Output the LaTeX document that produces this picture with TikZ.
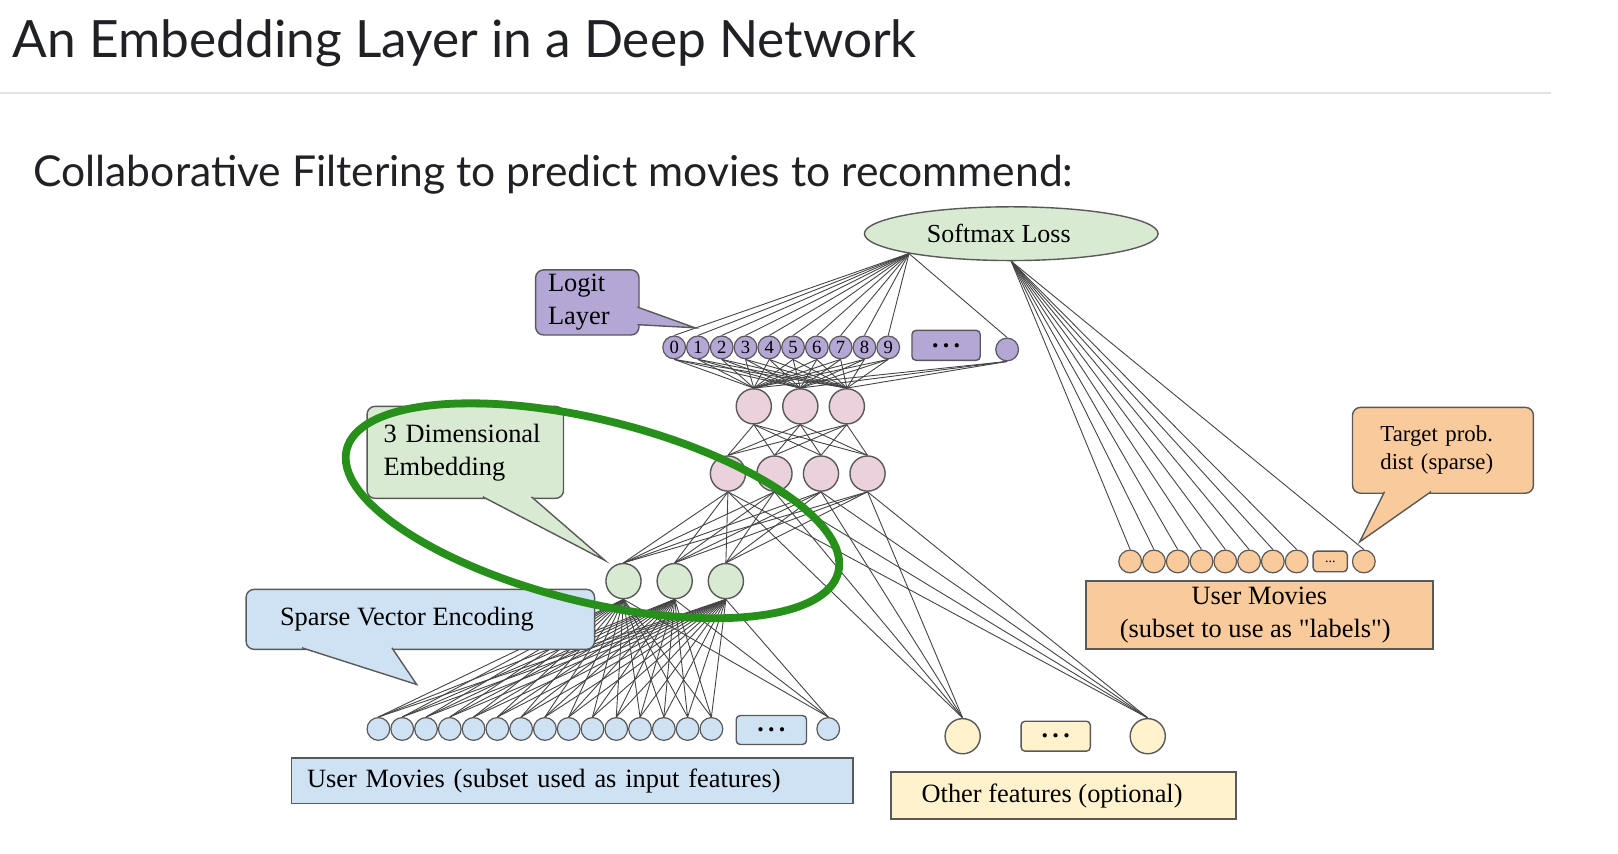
\documentclass[tikz,border=0pt]{standalone}
\usepackage{fontspec}
\setmainfont{Liberation Serif}
\newfontfamily\slidefont{Lato}
\usetikzlibrary{positioning,shapes.geometric,backgrounds}

\definecolor{edgegray}{HTML}{444444}
\definecolor{rimgray}{HTML}{595959}
\definecolor{lossgreen}{HTML}{D9EAD3}
\definecolor{logitpurple}{HTML}{B4A7D6}
\definecolor{hiddenpink}{HTML}{EAD1DC}
\definecolor{inputblue}{HTML}{CFE2F3}
\definecolor{otheryellow}{HTML}{FFF2CC}
\definecolor{labelorange}{HTML}{F9CB9C}
\definecolor{ringgreen}{HTML}{27901A}
\definecolor{titlegray}{HTML}{202124}
\definecolor{rulegray}{HTML}{E3E3E3}

\newlength\pxu
\setlength\pxu{0.517pt}

\tikzset{
  neuron/.style={circle, draw=rimgray, line width=0.7pt, inner sep=0pt, minimum size=34\pxu},
  tiny/.style={circle, draw=rimgray, line width=0.6pt, inner sep=0pt, minimum size=22\pxu,
    font=\fontsize{9.3}{9.3}\selectfont},
  dotbox/.style={rectangle, rounded corners=2pt, draw=rimgray, line width=0.7pt, inner sep=0pt,
    font=\fontsize{13}{13}\selectfont\bfseries},
  wire/.style={draw=edgegray, line width=0.45pt},
  labelbox/.style={rectangle, draw=rimgray, line width=0.9pt, inner sep=0pt,
    font=\fontsize{13.2}{16.5}\selectfont},
  talkbox/.style={rectangle, rounded corners=4pt, draw=rimgray, line width=0.7pt, inner sep=0pt,
    font=\fontsize{13.2}{16.5}\selectfont},
  talktail/.style={draw=rimgray, line width=0.7pt},
}

\begin{document}
\begin{tikzpicture}[x=\pxu, y=-\pxu]
  \useasboundingbox (0,0) rectangle (1564.8,825.9);

  % headings
  \node[anchor=base west, inner sep=0pt, text=titlegray, font=\slidefont\fontsize{25.7}{30}\selectfont]
    (title) at (12,56) {An Embedding Layer in a Deep Network};
  \draw[rulegray, line width=1pt] (0,90) -- (1500,90);
  \node[anchor=base west, inner sep=0pt, text=titlegray, font=\slidefont\fontsize{21.3}{24}\selectfont]
    (subtitle) at (32,180) {Collaborative Filtering to predict movies to recommend:};

  % loss and logit layer
  \node[ellipse, draw=rimgray, line width=0.7pt, fill=lossgreen, minimum width=284\pxu, minimum height=52\pxu,
    inner sep=0pt, font=\fontsize{13}{14}\selectfont] (loss) at (978,226) {Softmax Loss\hspace*{24\pxu}};
  \foreach \i in {0,...,9}
    \node[tiny, fill=logitpurple] (logit\i) at ({652+23*\i},336) {\i};
  \node[dotbox, fill=logitpurple, minimum width=66\pxu, minimum height=29\pxu] (logitdots) at (915,334) {.\,.\,.};
  \node[tiny, fill=logitpurple] (logitN) at (974,338) {};

  % hidden layers
  \foreach \j in {1,2,3}
    \node[neuron, fill=hiddenpink] (hidA\j) at ({729+45*(\j-1)},393) {};
  \foreach \j in {1,...,4}
    \node[neuron, fill=hiddenpink] (hidB\j) at ({704+45*(\j-1)},458) {};

  % embedding
  \foreach \k in {1,2,3}
    \node[neuron, fill=lossgreen] (emb\k) at ({603+49.5*(\k-1)},562) {};

  % sparse input
  \foreach \i in {0,...,14}
    \node[tiny, fill=inputblue] (inp\i) at ({366+23*\i},705) {};
  \node[dotbox, fill=inputblue, minimum width=68\pxu, minimum height=28\pxu] (inpdots) at (746,706) {.\,.\,.};
  \node[tiny, fill=inputblue] (inpN) at (801,705) {};
  \node[labelbox, fill=inputblue, text width=513\pxu, inner xsep=15\pxu, minimum height=44\pxu, align=left]
    (inplabel) at (553.5,755) {User Movies (subset used as input features)};

  % other features
  \node[neuron, fill=otheryellow] (oth1) at (931,712) {};
  \node[dotbox, fill=otheryellow, minimum width=67\pxu, minimum height=29\pxu] (othdots) at (1021,712) {.\,.\,.};
  \node[neuron, fill=otheryellow] (oth2) at (1110,712) {};
  \node[labelbox, fill=otheryellow, minimum width=333\pxu, minimum height=45\pxu]
    (othlabel) at (1028.5,769.5) {Other features (optional)\hspace*{22\pxu}};

  % label movies
  \foreach \i in {0,...,7}
    \node[tiny, fill=labelorange] (lab\i) at ({1093+23*\i},543) {};
  \node[dotbox, fill=labelorange, minimum width=33\pxu, minimum height=20\pxu, font=\fontsize{7}{7}\selectfont]
    (labdots) at (1286.5,543) {...};
  \node[tiny, fill=labelorange] (labN) at (1319,543) {};
  \node[labelbox, fill=labelorange, minimum width=336\pxu, minimum height=66\pxu, align=center]
    (lablabel) at (1218,595) {User Movies\\(subset to use as \textquotedbl labels\textquotedbl)\hspace*{8\pxu}};

  % connections
  \begin{pgfonlayer}{background}
    \foreach \i in {0,...,9,N} {
      \draw[wire] (loss.191) -- (logit\i.north);
      \foreach \j in {1,2,3}
        \draw[wire] (logit\i.south) -- (hidA\j.north);
    }
    \foreach \i in {0,...,7,N}
      \draw[wire] (loss.south) -- (lab\i.north);
    \foreach \j in {1,2,3}
      \foreach \m in {1,...,4}
        \draw[wire] (hidA\j.south) -- (hidB\m.north);
    \foreach \m in {1,...,4} {
      \foreach \k in {1,2,3}
        \draw[wire] (hidB\m.south) -- (emb\k.north);
      \draw[wire] (hidB\m.south) -- (oth1.north);
      \draw[wire] (hidB\m.south) -- (oth2.north);
    }
    \foreach \k in {1,2,3}
      \foreach \i in {0,...,14,N}
        \draw[wire] (emb\k.south) -- (inp\i.north);
  \end{pgfonlayer}

  % callouts
  \node[talkbox, fill=logitpurple, minimum width=100\pxu, minimum height=63\pxu, text width=76\pxu, align=left]
    (logitnote) at (568,292.5) {Logit\\Layer};
  \filldraw[talktail, fill=logitpurple] (616.5,297) -- (672,317) -- (616.5,314);

  \node[talkbox, fill=lossgreen, minimum width=190\pxu, minimum height=89\pxu, text width=158\pxu, align=left]
    (embnote) at (450,437.5) {3 Dimensional\\Embedding};
  \filldraw[talktail, fill=lossgreen] (467,480.5) -- (585,542) -- (514,480.5);

  \node[talkbox, fill=inputblue, minimum width=337\pxu, minimum height=58\pxu]
    (sparsenote) at (406.5,599) {Sparse Vector Encoding\hspace*{26\pxu}};
  \filldraw[talktail, fill=inputblue] (292,626.5) -- (403,662) -- (379,626.5);

  \node[talkbox, fill=labelorange, minimum width=175\pxu, minimum height=83\pxu, text width=121\pxu,
    inner xsep=27\pxu, align=left, font=\fontsize{11.4}{14}\selectfont]
    (targetnote) at (1395.5,435.5) {Target prob.\\dist (sparse)};
  \filldraw[talktail, fill=labelorange] (1339,475.5) -- (1315,524) -- (1384,475.5);

  % highlight ring
  \draw[ringgreen, line width=3.9pt, rotate around={-14:(573,494)}] (573,494) ellipse (245 and 88);
\end{tikzpicture}
\end{document}
